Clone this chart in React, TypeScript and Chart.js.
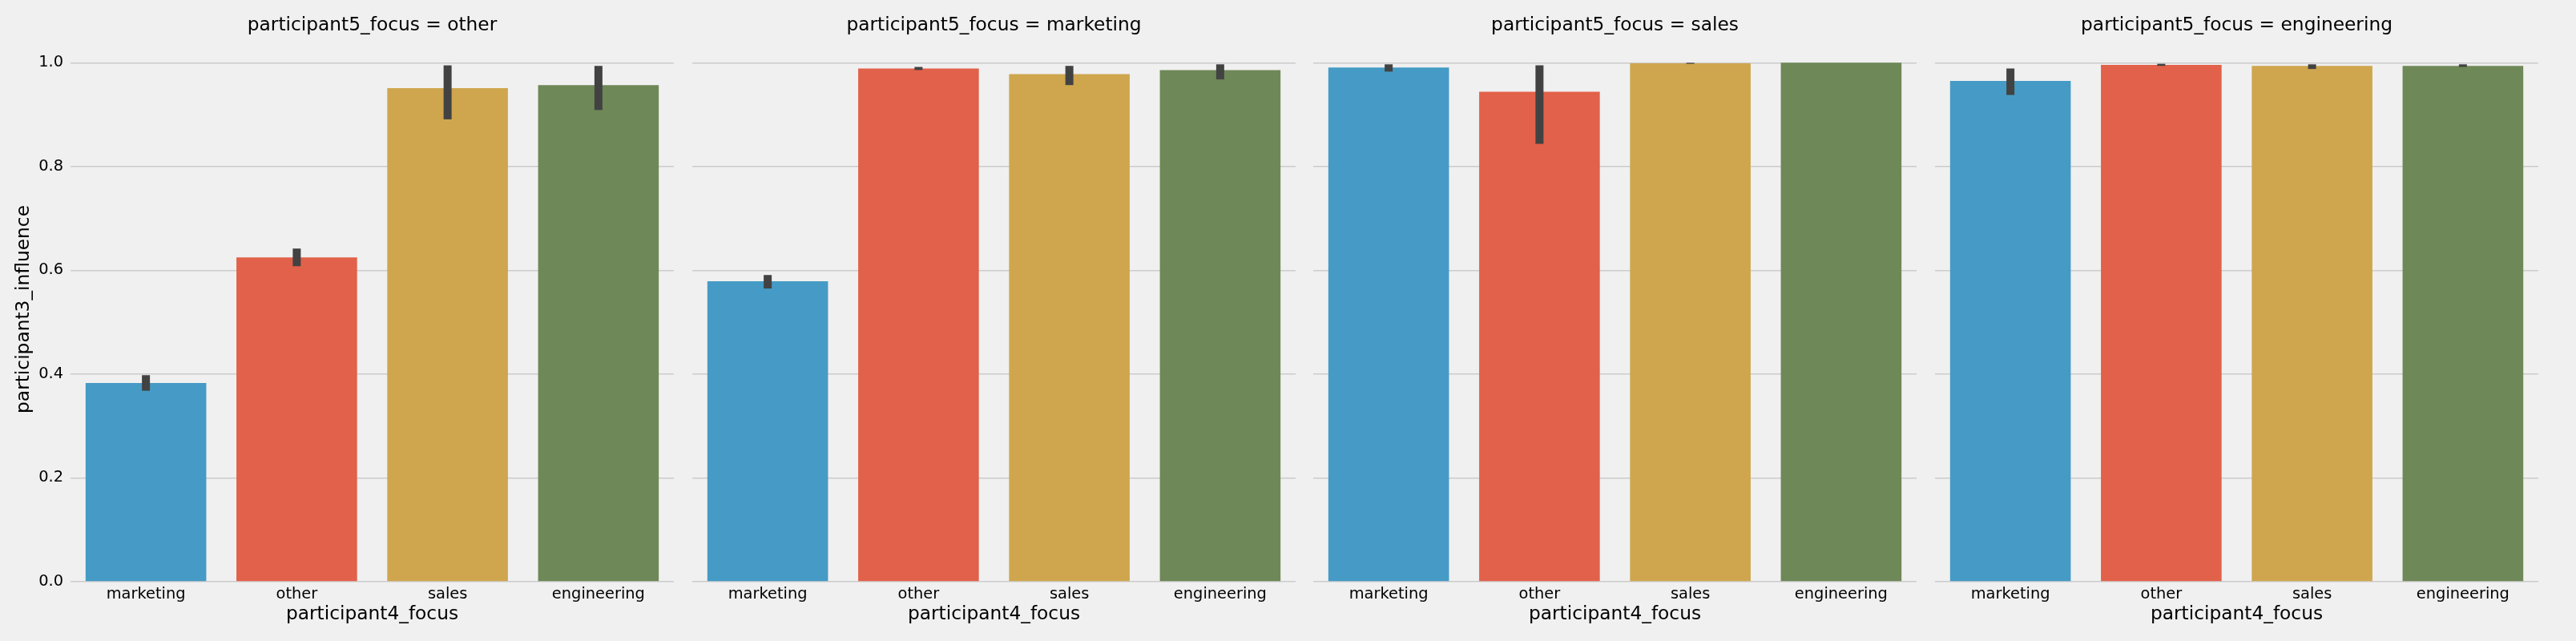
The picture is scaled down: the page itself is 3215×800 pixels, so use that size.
import React, { useEffect, useRef } from "react";
import { Chart, registerables } from "chart.js";

Chart.register(...registerables);

// ---- data ----
const categories = ["marketing", "other", "sales", "engineering"];
const panelKeys = ["other", "marketing", "sales", "engineering"];
const barColors = ["#459bc5", "#e2614a", "#cfa64e", "#6e8857"];
const yTicks = [0, 0.2, 0.4, 0.6, 0.8, 1.0];

const meanOther = [0.383, 0.625, 0.951, 0.957];
const lowOther = [0.368, 0.608, 0.891, 0.909];
const highOther = [0.398, 0.642, 0.995, 0.994];

const meanMarketing = [0.579, 0.989, 0.978, 0.986];
const lowMarketing = [0.565, 0.986, 0.957, 0.968];
const highMarketing = [0.591, 0.992, 0.994, 0.997];

const meanSales = [0.991, 0.944, 0.999, 1.0];
const lowSales = [0.983, 0.844, 0.998, 1.0];
const highSales = [0.997, 0.995, 1.0, 1.0];

const meanEngineering = [0.965, 0.996, 0.994, 0.994];
const lowEngineering = [0.938, 0.994, 0.988, 0.992];
const highEngineering = [0.989, 0.998, 0.997, 0.997];

const means = [meanOther, meanMarketing, meanSales, meanEngineering];
const lows = [lowOther, lowMarketing, lowSales, lowEngineering];
const highs = [highOther, highMarketing, highSales, highEngineering];

const FONT = "'DejaVu Sans', sans-serif";
const BG = "#f0f0f0";

type PanelProps = {
  idx: number;
  left: number;
  width: number;
  padL: number;
  padR: number;
  yWidth: number;
  showY: boolean;
};

function Panel({ idx, left, width, padL, padR, yWidth, showY }: PanelProps) {
  const ref = useRef<HTMLCanvasElement | null>(null);
  useEffect(() => {
    if (!ref.current) return;
    const lo = lows[idx];
    const hi = highs[idx];
    const errPlugin = {
      id: "errbars" + idx,
      afterDatasetsDraw(chart: any) {
        const ctx = chart.ctx;
        const meta = chart.getDatasetMeta(0);
        const ys = chart.scales.y;
        ctx.save();
        ctx.strokeStyle = "#424242";
        ctx.lineWidth = 10;
        ctx.lineCap = "butt";
        meta.data.forEach((bar: any, i: number) => {
          const a = ys.getPixelForValue(lo[i]);
          const b = ys.getPixelForValue(hi[i]);
          if (Math.abs(a - b) < 0.01) return;
          ctx.beginPath();
          ctx.moveTo(bar.x, a);
          ctx.lineTo(bar.x, b);
          ctx.stroke();
        });
        ctx.restore();
      },
    };
    const chart = new Chart(ref.current, {
      type: "bar",
      data: {
        labels: categories,
        datasets: [
          {
            data: means[idx],
            backgroundColor: barColors,
            borderWidth: 0,
            categoryPercentage: 1,
            barPercentage: 0.8,
          },
        ],
      },
      options: {
        responsive: false,
        animation: false,
        devicePixelRatio: 1,
        layout: { padding: { left: padL, right: padR, top: 0, bottom: 0 } },
        plugins: {
          legend: { display: false },
          tooltip: { enabled: false },
          title: {
            display: true,
            fullSize: false,
            text: "participant5_focus = " + panelKeys[idx],
            color: "#000",
            font: { family: FONT, size: 23.3, weight: "normal", lineHeight: 1.2 },
            padding: { top: 18, bottom: 0 },
          },
        },
        scales: {
          x: {
            type: "category",
            offset: true,
            grid: { display: false, drawTicks: false },
            border: { display: false },
            ticks: {
              color: "#000",
              padding: 4,
              font: { family: FONT, size: 19.4 },
              maxRotation: 0,
              autoSkip: false,
            },
            title: {
              display: true,
              text: "participant4_focus",
              color: "#000",
              font: { family: FONT, size: 23.3, lineHeight: 1.2 },
              padding: { top: 0, bottom: 19 },
            },
            afterFit: (s: any) => {
              s.height = 74;
            },
          },
          y: {
            type: "linear",
            min: 0,
            max: 1.05,
            grid: { display: true, color: "#cbcbcb", lineWidth: 1.4, drawTicks: false },
            border: { display: false },
            ticks: {
              display: showY,
              color: "#000",
              padding: 9,
              font: { family: FONT, size: 19.4 },
              callback: (v: any) => Number(v).toFixed(1),
            },
            afterBuildTicks: (s: any) => {
              s.ticks = yTicks.map((v) => ({ value: v }));
            },
            title: {
              display: showY,
              text: "participant3_influence",
              color: "#000",
              font: { family: FONT, size: 23.3, lineHeight: 1.2 },
              padding: { top: 16, bottom: 0 },
            },
            afterFit: (s: any) => {
              s.width = yWidth;
            },
          },
        },
      },
      plugins: [errPlugin],
    });
    return () => chart.destroy();
  }, [idx, width, padL, padR, yWidth, showY]);
  return (
    <canvas
      ref={ref}
      width={width}
      height={800}
      style={{ position: "absolute", left, top: 0, width, height: 800, display: "block" }}
    />
  );
}

export default function App() {
  const panels: PanelProps[] = [
    { idx: 0, left: 0, width: 852, padL: 0, padR: 11, yWidth: 88, showY: true },
    { idx: 1, left: 853, width: 775, padL: 11, padR: 11, yWidth: 0, showY: false },
    { idx: 2, left: 1628, width: 775, padL: 11, padR: 11, yWidth: 0, showY: false },
    { idx: 3, left: 2404, width: 775, padL: 11, padR: 11, yWidth: 0, showY: false },
  ];
  return (
    <div
      style={{
        position: "absolute",
        left: 0,
        top: 0,
        width: 3215,
        height: 800,
        background: BG,
        overflow: "hidden",
      }}
    >
      {panels.map((p) => (
        <Panel key={p.idx} {...p} />
      ))}
    </div>
  );
}
